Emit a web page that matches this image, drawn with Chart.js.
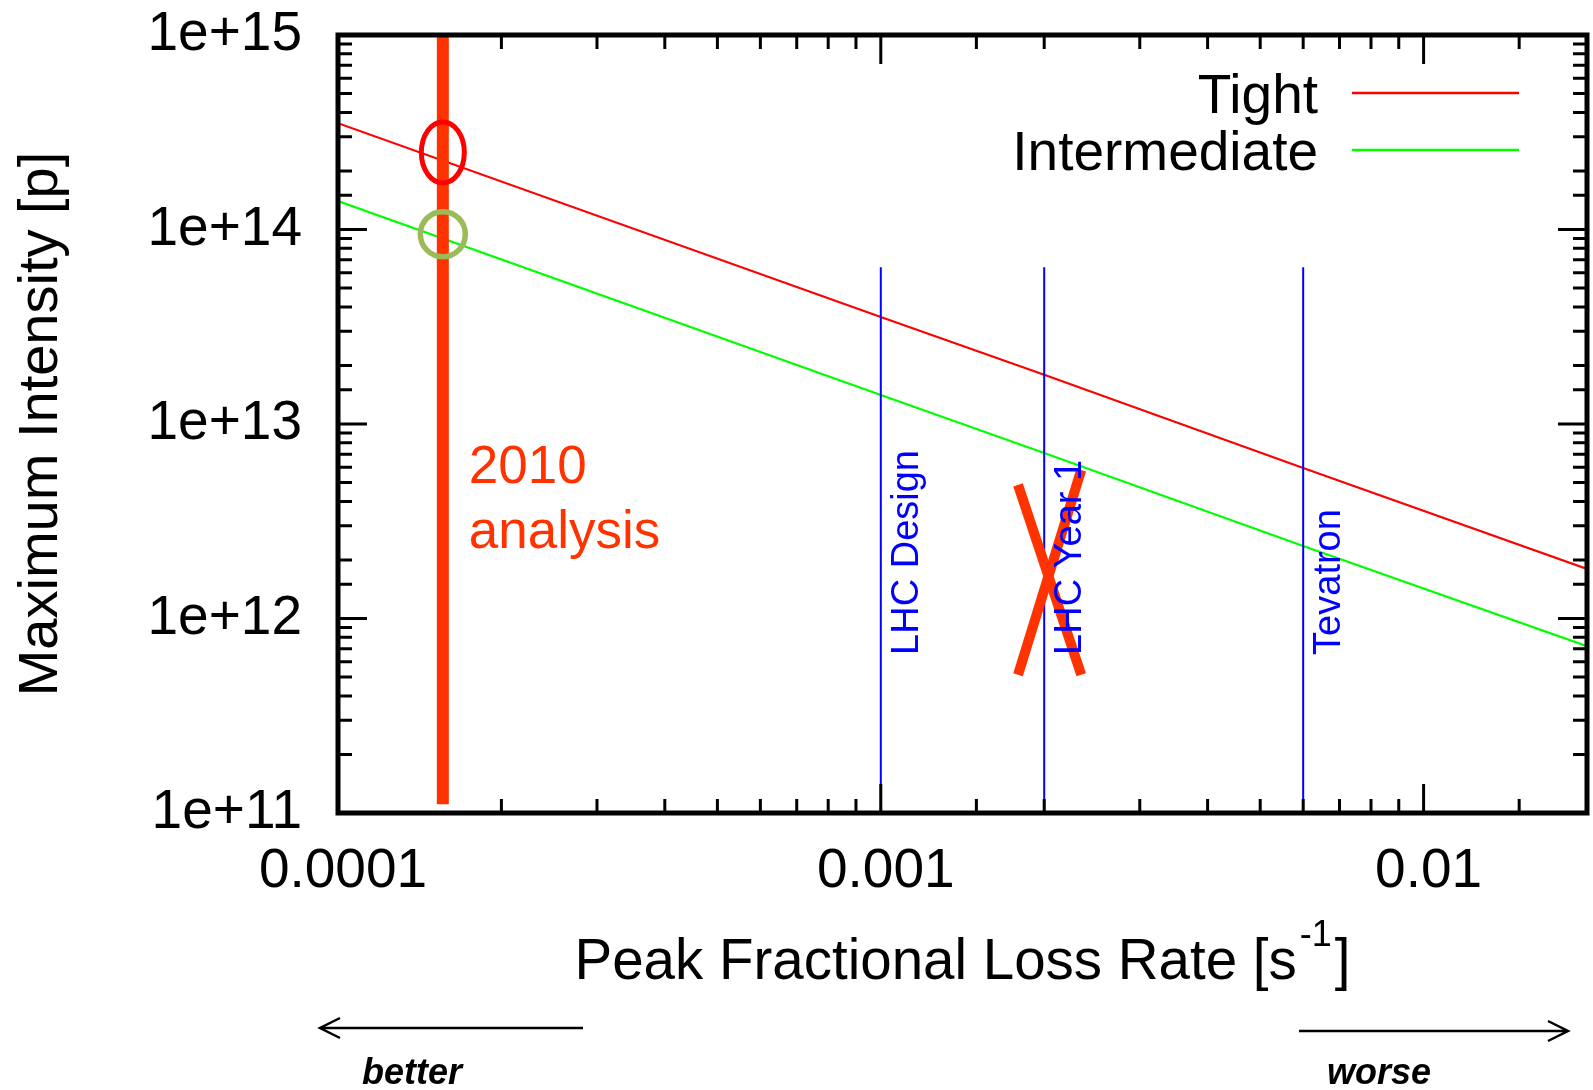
<!DOCTYPE html>
<html>
<head>
<meta charset="utf-8">
<script src="https://cdn.jsdelivr.net/npm/chart.js@4.4.1/dist/chart.umd.min.js"></script>
<style>
  html, body { margin: 0; padding: 0; background: #fff; }
  canvas { display: block; }
</style>
</head>
<body>
<canvas id="chart" width="1593" height="1090"></canvas>
<script>
// loss rate [1/s] vs max intensity [p]
const lossRate = [0.0001, 0.001, 0.002, 0.006, 0.02];
const tightIntensity = [3.52e14, 3.55e13, 1.79e13, 5.94e12, 1.8e12];
const intermediateIntensity = [1.4e14, 1.41e13, 7.1e12, 2.36e12, 7.2e11];

const machineNames = ['LHC Design', 'LHC Year 1', 'Tevatron'];
const machineRate = [0.001, 0.002, 0.006];
const machineTop = [6.4e13, 6.4e13, 6.4e13];

const analysisRate = [0.000156, 0.000156];
const analysisIntensity = [1.11e11, 1e15];

const circleRate = [0.000156, 0.000156];
const circleIntensity = [2.49e14, 9.46e13];

const crossRate = [0.00179, 0.00234];
const crossDown = [4.86e12, 5.14e11];
const crossUp = [5.14e11, 5.8e12];

const xTickValues = [0.0001, 0.001, 0.01];
const xTickLabels = ['0.0001', '0.001', '0.01'];
const yTickValues = [1e11, 1e12, 1e13, 1e14, 1e15];
const yTickLabels = ['1e+11', '1e+12', '1e+13', '1e+14', '1e+15'];

const FONT = '"Liberation Sans", Arial, Helvetica, sans-serif';

const pts = (xs, ys) => xs.map((x, i) => ({ x, y: ys[i] }));
const isDecade = v => Math.abs(Math.log10(v) - Math.round(Math.log10(v))) < 1e-6;
const labelFor = (vals, labels) => v => {
  const i = vals.findIndex(t => Math.abs(Math.log10(t) - Math.log10(v)) < 1e-6);
  return i < 0 ? '' : labels[i];
};
const noPad = s => { s.paddingTop = 0; s.paddingBottom = 0; s.paddingLeft = 0; s.paddingRight = 0; };

const lineBase = { showLine: true, pointRadius: 0, fill: false, tension: 0, borderCapStyle: 'butt' };

const datasets = [
  { ...lineBase, label: 'Tight', data: pts(lossRate, tightIntensity), borderColor: '#ff0000', borderWidth: 2.2, order: 5 },
  { ...lineBase, label: 'Intermediate', data: pts(lossRate, intermediateIntensity), borderColor: '#00ff00', borderWidth: 2.2, order: 5 },
  ...machineRate.map((r, i) => ({
    ...lineBase, label: machineNames[i],
    data: [{ x: r, y: 1e11 }, { x: r, y: machineTop[i] }],
    borderColor: '#0000ff', borderWidth: 2, order: 4
  })),
  { ...lineBase, label: '2010 analysis', data: pts(analysisRate, analysisIntensity), borderColor: '#ff3300', borderWidth: 12, order: 3 },
  { ...lineBase, label: 'cross a', data: pts(crossRate, crossDown), borderColor: '#ff3300', borderWidth: 10, order: 2 },
  { ...lineBase, label: 'cross b', data: pts(crossRate, crossUp), borderColor: '#ff3300', borderWidth: 10, order: 2 }
];

function drawArrow(ctx, x0, x1, y) {
  const dir = Math.sign(x1 - x0);
  ctx.beginPath();
  ctx.moveTo(x0, y);
  ctx.lineTo(x1, y);
  ctx.moveTo(x1 - dir * 20, y - 10);
  ctx.lineTo(x1, y);
  ctx.lineTo(x1 - dir * 20, y + 10);
  ctx.stroke();
}

const decorations = {
  id: 'decorations',
  afterDatasetsDraw(chart) {
    const { ctx, chartArea: a, scales } = chart;
    const sx = scales.x, sy = scales.y;
    ctx.save();

    // circles round the crossings
    const cx = sx.getPixelForValue(circleRate[0]);
    ctx.lineWidth = 5;
    ctx.strokeStyle = '#ff0000';
    ctx.beginPath();
    ctx.ellipse(cx, sy.getPixelForValue(circleIntensity[0]), 21.5, 30.5, 0, 0, Math.PI * 2);
    ctx.stroke();
    ctx.strokeStyle = '#9bbb59';
    ctx.lineWidth = 5.5;
    ctx.beginPath();
    ctx.ellipse(sx.getPixelForValue(circleRate[1]), sy.getPixelForValue(circleIntensity[1]), 22.5, 22.5, 0, 0, Math.PI * 2);
    ctx.stroke();

    // ticks, all four sides, pointing in
    ctx.strokeStyle = '#000';
    ctx.lineWidth = 3;
    ctx.beginPath();
    sx.ticks.forEach(t => {
      const p = sx.getPixelForValue(t.value);
      const len = isDecade(t.value) ? 29 : 14;
      ctx.moveTo(p, a.bottom); ctx.lineTo(p, a.bottom - len);
      ctx.moveTo(p, a.top); ctx.lineTo(p, a.top + len);
    });
    sy.ticks.forEach(t => {
      const p = sy.getPixelForValue(t.value);
      const len = isDecade(t.value) ? 29 : 14;
      ctx.moveTo(a.left, p); ctx.lineTo(a.left + len, p);
      ctx.moveTo(a.right, p); ctx.lineTo(a.right - len, p);
    });
    ctx.stroke();
    ctx.lineWidth = 5;
    ctx.strokeRect(a.left, a.top, a.right - a.left, a.bottom - a.top);

    // machine labels
    ctx.fillStyle = '#0000ff';
    ctx.font = '38px ' + FONT;
    ctx.textAlign = 'left';
    ctx.textBaseline = 'alphabetic';
    machineRate.forEach((r, i) => {
      ctx.save();
      ctx.translate(sx.getPixelForValue(r) + 37, sy.getPixelForValue(6.5e11));
      ctx.rotate(-Math.PI / 2);
      ctx.fillText(machineNames[i], 0, 0);
      ctx.restore();
    });

    // 2010 analysis
    ctx.fillStyle = '#ff3300';
    ctx.font = '53px ' + FONT;
    const ax = sx.getPixelForValue(analysisRate[0]) + 26;
    const ay = sy.getPixelForValue(4.95e12);
    ctx.fillText('2010', ax, ay);
    ctx.fillText('analysis', ax, ay + 65);

    // legend
    ctx.font = '55px ' + FONT;
    ctx.fillStyle = '#000';
    ctx.textAlign = 'right';
    [0, 1].forEach(i => {
      const ly = 93 + i * 57;
      ctx.fillText(datasets[i].label, 1318, ly + 19.5);
      ctx.strokeStyle = datasets[i].borderColor;
      ctx.lineWidth = 2.5;
      ctx.beginPath();
      ctx.moveTo(1352, ly); ctx.lineTo(1519, ly);
      ctx.stroke();
    });

    ctx.restore();
  },
  afterDraw(chart) {
    const { ctx, chartArea: a } = chart;
    ctx.save();
    ctx.fillStyle = '#000';
    ctx.strokeStyle = '#000';

    // y title
    ctx.font = '56px ' + FONT;
    ctx.textAlign = 'center';
    ctx.textBaseline = 'alphabetic';
    ctx.save();
    ctx.translate(57, (a.top + a.bottom) / 2);
    ctx.rotate(-Math.PI / 2);
    ctx.fillText('Maximum Intensity [p]', 0, 0);
    ctx.restore();

    // x title with superscript
    const main = 'Peak Fractional Loss Rate [s';
    const big = '56.5px ' + FONT, small = '36px ' + FONT;
    ctx.textAlign = 'left';
    ctx.font = big;
    const w1 = ctx.measureText(main).width;
    const w3 = ctx.measureText(']').width;
    ctx.font = small;
    const w2 = ctx.measureText('-1').width;
    const total = w1 + 3 + w2 + 3 + w3;
    let tx = (a.left + a.right) / 2 - total / 2;
    ctx.font = big;
    ctx.fillText(main, tx, 979);
    tx += w1 + 3;
    ctx.font = small;
    ctx.fillText('-1', tx, 946);
    tx += w2 + 3;
    ctx.font = big;
    ctx.fillText(']', tx, 979);

    // better / worse arrows
    ctx.lineWidth = 2.5;
    drawArrow(ctx, 583, 320, 1028);
    drawArrow(ctx, 1299, 1568, 1031);
    ctx.font = 'italic bold 36px ' + FONT;
    ctx.fillText('better', 362, 1084);
    ctx.fillText('worse', 1327, 1084);
    ctx.restore();
  }
};

new Chart(document.getElementById('chart'), {
  type: 'scatter',
  data: { datasets },
  options: {
    responsive: false,
    animation: false,
    layout: { padding: { left: 0, right: 6, top: 35, bottom: 0 } },
    scales: {
      x: {
        type: 'logarithmic',
        min: 0.0001,
        max: 0.02,
        afterFit: s => { s.height = 277; noPad(s); },
        grid: { display: false, drawTicks: false },
        border: { display: false },
        ticks: {
          autoSkip: false, maxRotation: 0, padding: 26, labelOffset: 5, color: '#000',
          font: { family: FONT, size: 55 },
          callback: labelFor(xTickValues, xTickLabels)
        }
      },
      y: {
        type: 'logarithmic',
        min: 1e11,
        max: 1e15,
        afterFit: s => { s.width = 338; noPad(s); },
        grid: { display: false, drawTicks: false },
        border: { display: false },
        ticks: {
          autoSkip: false, padding: 36, color: '#000',
          font: { family: FONT, size: 55 },
          callback: labelFor(yTickValues, yTickLabels)
        }
      }
    },
    plugins: {
      legend: { display: false },
      tooltip: { enabled: false }
    }
  },
  plugins: [decorations]
});
</script>
</body>
</html>
